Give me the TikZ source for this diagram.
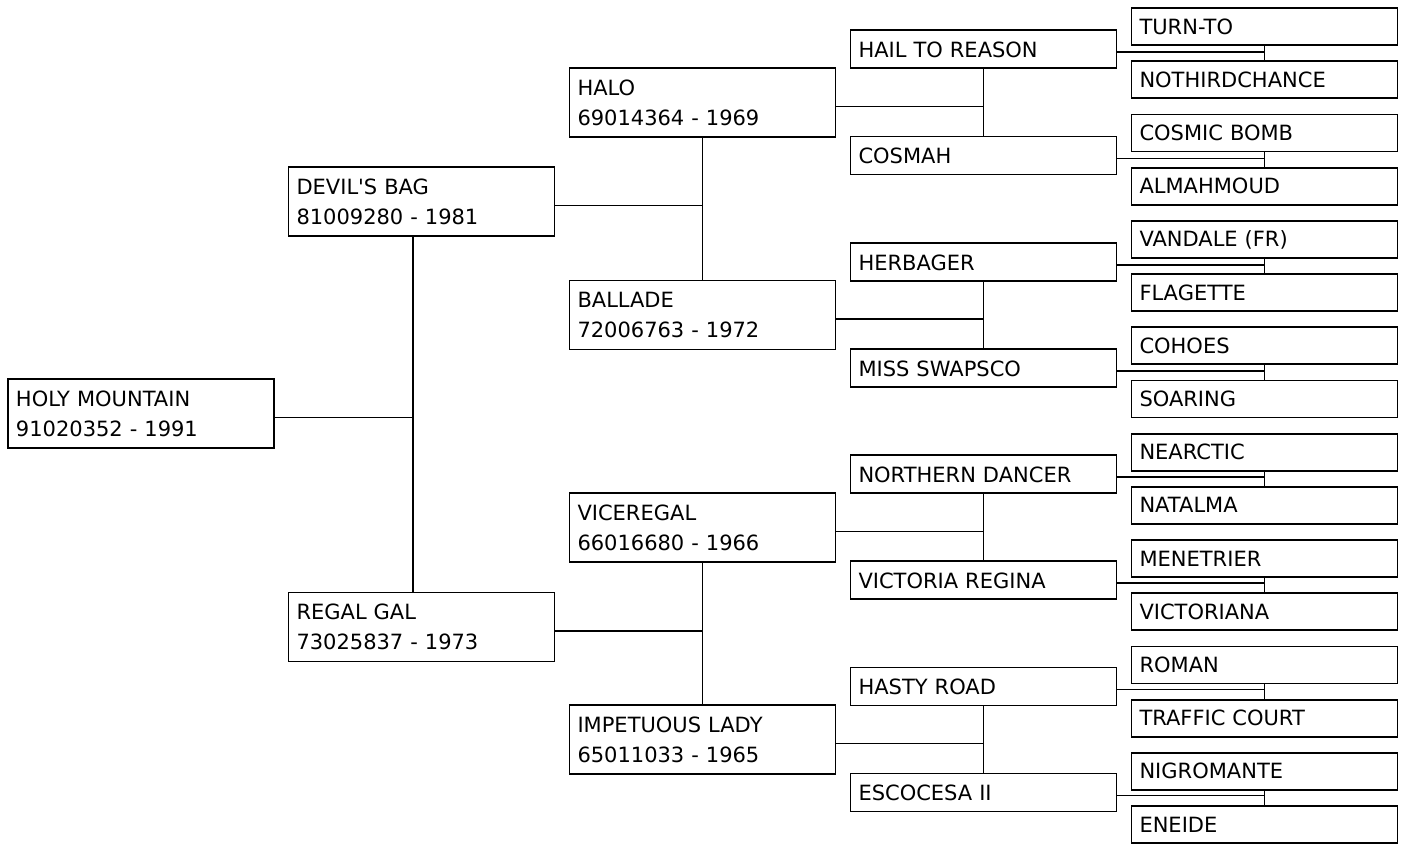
\documentclass[tikz,border=0pt]{standalone}
\usepackage{fontspec}
\setmainfont{DejaVu Sans}

\begin{document}
\begin{tikzpicture}[
    x=1pt, y=-1pt,
    horse/.style={draw=black, line width=1.8pt, rectangle, fill=white, text width=250pt, inner xsep=8pt, inner ysep=0pt, align=left, font=\fontsize{21}{30}\selectfont},
    pair/.style={horse, minimum height=69pt},
    sire/.style={horse, minimum height=38pt, text height=17pt, text depth=1pt},
    anc/.style={horse, minimum height=37pt, text height=15pt, text depth=0pt},
    conn/.style={line width=1.8pt}
]
  \useasboundingbox (0,0) rectangle (1405,846);

  % Generation 0 and 1
  \node (holy) [pair] at (141,413.5) {HOLY MOUNTAIN\\91020352 - 1991};
  \node (devil) [pair] at (421.5,201.5) {DEVIL\textquotesingle S BAG\\81009280 - 1981};
  \node (regal) [pair] at (421.5,627) {REGAL GAL\\73025837 - 1973};

  % Generation 2
  \node (halo) [pair] at (702.5,102.5) {HALO\\69014364 - 1969};
  \node (ballade) [pair] at (702.5,315) {BALLADE\\72006763 - 1972};
  \node (viceregal) [pair] at (702.5,527.5) {VICEREGAL\\66016680 - 1966};
  \node (impetuous) [pair] at (702.5,739.5) {IMPETUOUS LADY\\65011033 - 1965};

  % Generation 3
  \node (hail) [sire] at (983.5,49) {HAIL TO REASON};
  \node (cosmah) [sire] at (983.5,155.5) {COSMAH};
  \node (herbager) [sire] at (983.5,262) {HERBAGER};
  \node (swapsco) [sire] at (983.5,368) {MISS SWAPSCO};
  \node (northern) [sire] at (983.5,474) {NORTHERN DANCER};
  \node (victoria) [sire] at (983.5,580) {VICTORIA REGINA};
  \node (hasty) [sire] at (983.5,686.5) {HASTY ROAD};
  \node (escocesa) [sire] at (983.5,792.5) {ESCOCESA II};

  % Generation 4
  \node (turnto) [anc] at (1264.5,26.5) {TURN-TO};
  \node (nothird) [anc] at (1264.5,79.7) {NOTHIRDCHANCE};
  \node (cosmic) [anc] at (1264.5,132.9) {COSMIC BOMB};
  \node (almahmoud) [anc] at (1264.5,186.1) {ALMAHMOUD};
  \node (vandale) [anc] at (1264.5,239.3) {VANDALE (FR)};
  \node (flagette) [anc] at (1264.5,292.5) {FLAGETTE};
  \node (cohoes) [anc] at (1264.5,345.7) {COHOES};
  \node (soaring) [anc] at (1264.5,398.9) {SOARING};
  \node (nearctic) [anc] at (1264.5,452.1) {NEARCTIC};
  \node (natalma) [anc] at (1264.5,505.3) {NATALMA};
  \node (menetrier) [anc] at (1264.5,558.5) {MENETRIER};
  \node (victoriana) [anc] at (1264.5,611.7) {VICTORIANA};
  \node (roman) [anc] at (1264.5,664.9) {ROMAN};
  \node (traffic) [anc] at (1264.5,718.1) {TRAFFIC COURT};
  \node (nigromante) [anc] at (1264.5,771.3) {NIGROMANTE};
  \node (eneide) [anc] at (1264.5,824.5) {ENEIDE};

  % Connectors
  \draw [conn] ([xshift=-8.5pt]devil.south) -- ([xshift=-8.5pt]regal.north) ([yshift=-4pt]holy.east) -| ([xshift=-8.5pt]devil.south);

  \draw [conn] (halo.south) -- (ballade.north) ([yshift=-4pt]devil.east) -| (halo.south);
  \draw [conn] (viceregal.south) -- (impetuous.north) ([yshift=-4pt]regal.east) -| (viceregal.south);

  \draw [conn] (hail.south) -- (cosmah.north) ([yshift=-4pt]halo.east) -| (hail.south);
  \draw [conn] (herbager.south) -- (swapsco.north) ([yshift=-4pt]ballade.east) -| (herbager.south);
  \draw [conn] (northern.south) -- (victoria.north) ([yshift=-4pt]viceregal.east) -| (northern.south);
  \draw [conn] (hasty.south) -- (escocesa.north) ([yshift=-4pt]impetuous.east) -| (hasty.south);

  \draw [conn] (turnto.south) -- (nothird.north) ([yshift=-3pt]hail.east) -| (turnto.south);
  \draw [conn] (cosmic.south) -- (almahmoud.north) ([yshift=-3pt]cosmah.east) -| (cosmic.south);
  \draw [conn] (vandale.south) -- (flagette.north) ([yshift=-3pt]herbager.east) -| (vandale.south);
  \draw [conn] (cohoes.south) -- (soaring.north) ([yshift=-3pt]swapsco.east) -| (cohoes.south);
  \draw [conn] (nearctic.south) -- (natalma.north) ([yshift=-3pt]northern.east) -| (nearctic.south);
  \draw [conn] (menetrier.south) -- (victoriana.north) ([yshift=-3pt]victoria.east) -| (menetrier.south);
  \draw [conn] (roman.south) -- (traffic.north) ([yshift=-3pt]hasty.east) -| (roman.south);
  \draw [conn] (nigromante.south) -- (eneide.north) ([yshift=-3pt]escocesa.east) -| (nigromante.south);

\end{tikzpicture}
\end{document}
